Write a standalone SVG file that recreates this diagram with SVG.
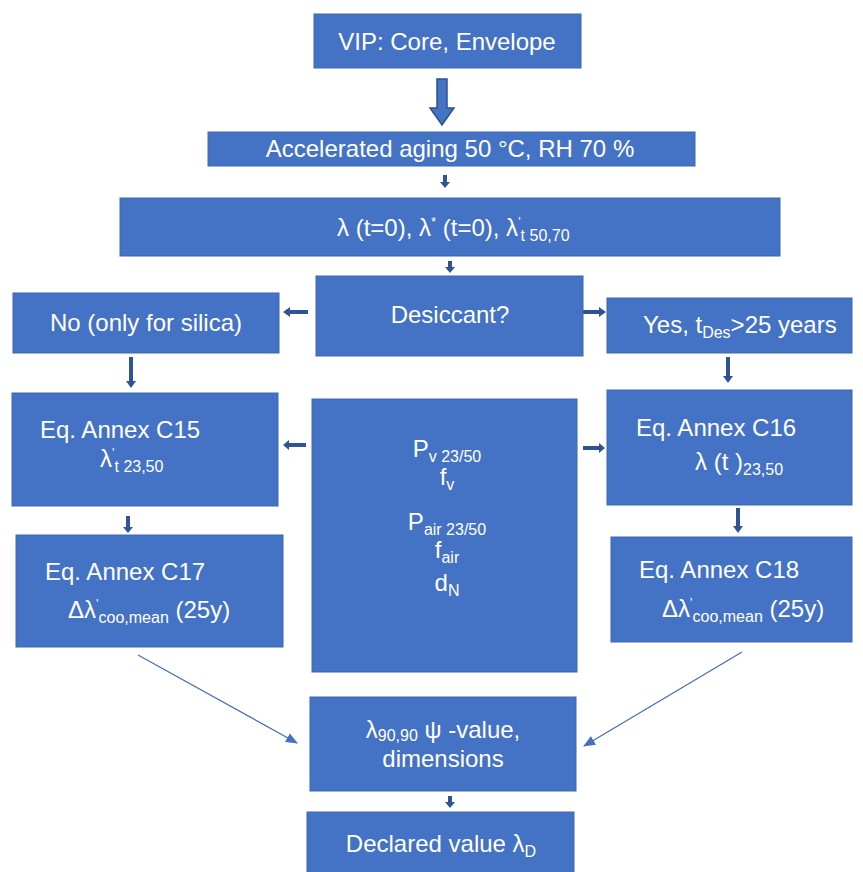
<svg xmlns="http://www.w3.org/2000/svg" width="863" height="872" viewBox="0 0 863 872">
<defs>
<style>
.box{fill:#4472C4;stroke:#3B66B3;stroke-width:1}
.t{font-family:"Liberation Sans",Arial,sans-serif;font-size:24px;fill:#FFFFFF}
.s{font-size:16px}
.sup{font-size:13px}
.blk{fill:#2F5496}
.diag{stroke:#4A6FB5;stroke-width:1.3;fill:none}
</style>
<marker id="tri" viewBox="0 0 12 10" refX="11" refY="5" markerWidth="12" markerHeight="10" markerUnits="userSpaceOnUse" orient="auto">
<path d="M0,0 L12,5 L0,10 Z" fill="#4472C4"/>
</marker>
</defs>
<rect width="863" height="872" fill="#FFFFFF"/>

<g id="connectors">
<path d="M437,79 H447 V108 H454 L442,125 L430,108 H437 Z" fill="#4472C4" stroke="#2F528F" stroke-width="1.5"/>
<path class="blk" d="M443,175 H447 V182 H450 L445,188 L440,182 H443 Z"/>
<path class="blk" d="M448,261 H452 V267 H455 L450,273 L445,267 H448 Z"/>
<path class="blk" d="M308,310 V314 H290 V317 L283,312 L290,307 V310 Z"/>
<path class="blk" d="M583,310 V314 H599 V317 L606,312 L599,307 V310 Z"/>
<path class="blk" d="M129,357 H133 V381 H136 L131,388 L126,381 H129 Z"/>
<path class="blk" d="M726,357 H730 V376 H733 L728,383 L723,376 H726 Z"/>
<path class="blk" d="M306,443 V447 H289 V450 L283,445 L289,440 V443 Z"/>
<path class="blk" d="M583,446 V450 H599 V453 L605,448 L599,443 V446 Z"/>
<path class="blk" d="M126,516 H130 V527 H133 L128,533 L123,527 H126 Z"/>
<path class="blk" d="M736,508 H740 V526 H743 L738,533 L733,526 H736 Z"/>
<path class="blk" d="M448,796 H452 V802 H455 L450,808 L445,802 H448 Z"/>
<line class="diag" x1="138" y1="655" x2="297" y2="743" marker-end="url(#tri)"/>
<line class="diag" x1="742" y1="652" x2="584" y2="746" marker-end="url(#tri)"/>
</g>

<g id="n-vip">
<rect class="box" x="314" y="14" width="267" height="54"/>
<text class="t" x="447" y="50" text-anchor="middle">VIP: Core, Envelope</text>
</g>

<g id="n-aging">
<rect class="box" x="208" y="132" width="487" height="34"/>
<text class="t" x="450" y="157" text-anchor="middle">Accelerated aging 50 °C, RH 70 %</text>
</g>

<g id="n-lambda">
<rect class="box" x="120" y="198" width="660" height="58"/>
<text class="t" x="337" y="236">λ (t=0), λ<tspan class="sup" dy="-10">*</tspan><tspan dy="10"> (t=0), λ</tspan><tspan class="sup" dy="-10">'</tspan><tspan class="s" dy="15">t 50,70</tspan></text>
</g>

<g id="n-desiccant">
<rect class="box" x="316" y="276" width="267" height="80"/>
<text class="t" x="450" y="323" text-anchor="middle">Desiccant?</text>
</g>

<g id="n-no">
<rect class="box" x="13" y="293" width="266" height="60"/>
<text class="t" x="146" y="331" text-anchor="middle">No (only for silica)</text>
</g>

<g id="n-yes">
<rect class="box" x="607" y="298" width="245" height="55"/>
<text class="t" x="643" y="333">Yes, t<tspan class="s" dy="5">Des</tspan><tspan dy="-5">&gt;25 years</tspan></text>
</g>

<g id="n-c15">
<rect class="box" x="12" y="393" width="266" height="113"/>
<text class="t" x="40" y="438">Eq. Annex C15</text>
<text class="t" x="100" y="467">λ<tspan class="sup" dy="-10">'</tspan><tspan class="s" dy="15">t 23,50</tspan></text>
</g>

<g id="n-params">
<rect class="box" x="312" y="399" width="265" height="273"/>
<text class="t" x="447" y="457" text-anchor="middle">P<tspan class="s" dy="5">v 23/50</tspan></text>
<text class="t" x="447" y="485" text-anchor="middle">f<tspan class="s" dy="5">v</tspan></text>
<text class="t" x="447" y="530" text-anchor="middle">P<tspan class="s" dy="5">air 23/50</tspan></text>
<text class="t" x="447" y="558" text-anchor="middle">f<tspan class="s" dy="5">air</tspan></text>
<text class="t" x="447" y="591" text-anchor="middle">d<tspan class="s" dy="5">N</tspan></text>
</g>

<g id="n-c16">
<rect class="box" x="607" y="390" width="245" height="115"/>
<text class="t" x="636" y="436">Eq. Annex C16</text>
<text class="t" x="695" y="470">λ (t )<tspan class="s" dy="5">23,50</tspan></text>
</g>

<g id="n-c17">
<rect class="box" x="16" y="535" width="267" height="112"/>
<text class="t" x="45" y="580">Eq. Annex C17</text>
<text class="t" x="68" y="618">Δλ<tspan class="sup" dy="-10">'</tspan><tspan class="s" dy="15">coo,mean</tspan><tspan dy="-5"> (25y)</tspan></text>
</g>

<g id="n-c18">
<rect class="box" x="611" y="537" width="241" height="105"/>
<text class="t" x="639" y="578">Eq. Annex C18</text>
<text class="t" x="662" y="617">Δλ<tspan class="sup" dy="-10">'</tspan><tspan class="s" dy="15">coo,mean</tspan><tspan dy="-5"> (25y)</tspan></text>
</g>

<g id="n-lambda90">
<rect class="box" x="310" y="697" width="266" height="94"/>
<text class="t" x="443" y="738" text-anchor="middle">λ<tspan class="s" dy="3">90,90</tspan><tspan dy="-3"> ψ -value,</tspan></text>
<text class="t" x="443" y="767" text-anchor="middle">dimensions</text>
</g>

<g id="n-declared">
<rect class="box" x="307" y="812" width="267" height="62"/>
<text class="t" x="441" y="852" text-anchor="middle">Declared value λ<tspan class="s" dy="5">D</tspan></text>
</g>
</svg>
